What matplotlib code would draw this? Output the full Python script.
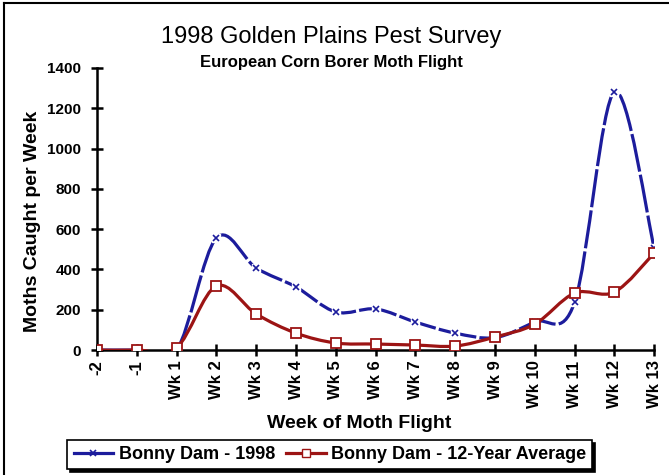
import matplotlib
matplotlib.use('Agg')
import matplotlib.pyplot as plt
from matplotlib.path import Path
from matplotlib.patches import PathPatch
from matplotlib import font_manager
import numpy as np

weeks = ['-2', '-1', 'Wk 1', 'Wk 2', 'Wk 3', 'Wk 4', 'Wk 5', 'Wk 6', 'Wk 7',
         'Wk 8', 'Wk 9', 'Wk 10', 'Wk 11', 'Wk 12', 'Wk 13']
moths_1998 = [0, 0, 0, 556, 407, 313, 189, 204, 139, 84, 62, 140, 238, 1281, 505]
moths_avg = [0, 0, 12, 318, 179, 84, 35, 30, 25, 20, 65, 129, 283, 288, 482]

names = {f.name for f in font_manager.fontManager.ttflist}
narrow = 'Liberation Sans Narrow' if 'Liberation Sans Narrow' in names else 'Liberation Sans'
plt.rcParams['font.family'] = ['Liberation Sans', 'DejaVu Sans']

blue = '#1c1c9c'
red = '#9c1414'


def smooth_path(x, y):
    # Excel style smoothed line: cubic bezier through every point
    pts = np.column_stack([x, y]).astype(float)
    ext = np.vstack([pts[0], pts, pts[-1]])
    verts = [pts[0]]
    codes = [Path.MOVETO]
    for i in range(1, len(ext) - 2):
        p0, p1, p2, p3 = ext[i - 1], ext[i], ext[i + 1], ext[i + 2]
        verts += [p1 + (p2 - p0) / 6, p2 - (p3 - p1) / 6, p2]
        codes += [Path.CURVE4] * 3
    return Path(verts, codes)


fig = plt.figure(figsize=(6.69, 4.75), dpi=100)
ax = fig.add_axes([0.145, 0.263, 0.833, 0.594])
x = np.arange(len(weeks))

ax.add_patch(PathPatch(smooth_path(x, moths_avg), facecolor='none', edgecolor=red,
                       lw=2.3, zorder=3))
ax.add_patch(PathPatch(smooth_path(x, moths_1998), facecolor='none', edgecolor=blue,
                       lw=2.3, linestyle=(0, (12, 1.0)), zorder=2))
ax.plot(x[2:], moths_1998[2:], ls='none', marker='s', ms=6, mfc='white', mec='white', zorder=4)
ax.plot(x[2:], moths_1998[2:], ls='none', marker='x', ms=5, mew=1.2, color=blue, zorder=5)
ax.plot(x, moths_avg, ls='none', marker='s', ms=7, mfc='white', mec=red, mew=1.3, zorder=6)

# legend handles
h1, = ax.plot([], [], color=blue, lw=2.3, marker='x', ms=5, mew=1.2)
h2, = ax.plot([], [], color=red, lw=2.3, marker='s', ms=6, mfc='white', mec=red)

ax.set_xlim(0, len(weeks) - 1)
ax.set_ylim(0, 1400)
ax.set_yticks(range(0, 1401, 200))
ax.set_xticks(x)
ax.set_xticklabels(weeks, rotation=90, fontfamily=narrow, fontweight='bold', fontsize=12)
for lab in ax.get_yticklabels():
    lab.set_fontfamily(narrow)
    lab.set_fontweight('bold')
    lab.set_fontsize(11)
ax.tick_params(direction='inout', length=9, width=1.8)
ax.tick_params(axis='y', pad=7)
ax.tick_params(axis='x', pad=3)
for s in ['top', 'right']:
    ax.spines[s].set_visible(False)
for s in ['left', 'bottom']:
    ax.spines[s].set_linewidth(1.8)

ax.set_xlabel('Week of Moth Flight', fontfamily=narrow, fontweight='bold', fontsize=14,
              labelpad=0)
ax.xaxis.set_label_coords(0.47, -0.23)
ax.set_ylabel('Moths Caught per Week', fontweight='bold', fontsize=14)
ax.yaxis.set_label_coords(-0.1, 0.455)

fig.text(0.495, 0.922, '1998 Golden Plains Pest Survey', ha='center', va='center', fontsize=17)
fig.text(0.495, 0.868, 'European Corn Borer Moth Flight', ha='center', va='center',
         fontfamily=narrow, fontweight='bold', fontsize=12)

leg = fig.legend([h1, h2], ['Bonny Dam - 1998', 'Bonny Dam - 12-Year Average'],
                 loc='center', bbox_to_anchor=(0.493, 0.043), ncol=2, frameon=True,
                 fancybox=False, shadow={'color': 'black', 'alpha': 1}, edgecolor='black',
                 handlelength=2.2, handletextpad=0.3, columnspacing=0.6, borderpad=0.35,
                 prop={'family': narrow, 'weight': 'bold', 'size': 13})
leg.get_frame().set_linewidth(1.2)

# frame lines along top and left of the picture
fig.add_artist(plt.Line2D([0.006, 0.006], [0, 0.994], color='black', lw=1.5,
                          transform=fig.transFigure))
fig.add_artist(plt.Line2D([0.006, 1], [0.994, 0.994], color='black', lw=1.5,
                          transform=fig.transFigure))

fig.savefig('out.png', dpi=100)
